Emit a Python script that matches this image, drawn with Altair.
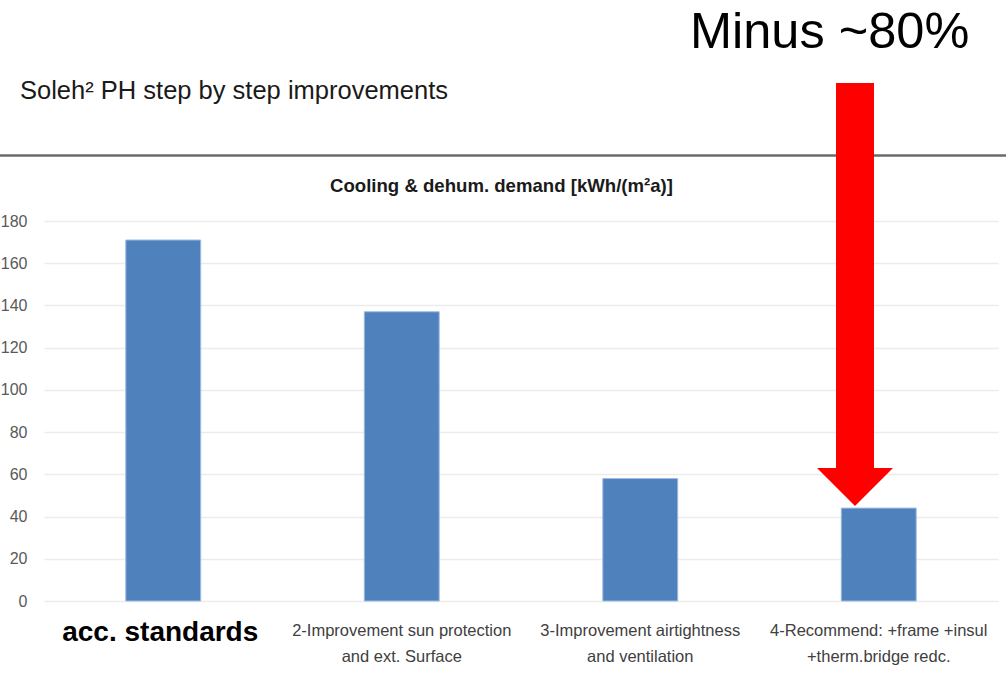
import altair as alt
import pandas as pd

# ---- data ----
categories = ["1", "2", "3", "4"]
values = [171, 137, 58, 44]
label_line1 = ["", "2-Improvement sun protection", "3-Improvement airtightness", "4-Recommend: +frame +insul"]
label_line2 = ["", "and ext. Surface", "and ventilation", "+therm.bridge redc."]
first_label = "acc. standards"
y_ticks = [0, 20, 40, 60, 80, 100, 120, 140, 160, 180]

page_title = "Soleh\u00b2 PH step by step improvements"
chart_title = "Cooling & dehum. demand [kWh/(m\u00b2a)]"
callout = "Minus ~80%"

SANS = "Liberation Sans, Arial, sans-serif"

W, H = 954, 380

df = pd.DataFrame({
    "cat": categories,
    "value": values,
    "l1": label_line1,
    "l2": label_line2,
})
df["label"] = df["l1"] + "\n" + df["l2"]

xscale = alt.Scale(domain=categories, paddingInner=0.686, paddingOuter=0.343)

base = alt.Chart(df)

bars = base.mark_bar(color="#4f81bd", stroke="#9dbbe0", strokeWidth=1).encode(
    x=alt.X("cat:N", sort=None, scale=xscale, axis=None),
    y=alt.Y(
        "value:Q",
        scale=alt.Scale(domain=[0, 180], nice=False),
        axis=alt.Axis(
            values=y_ticks,
            title=None,
            grid=True,
            gridColor="#ececec",
            gridWidth=1.5,
            domain=False,
            ticks=False,
            labelFont=SANS,
            labelFontSize=16,
            labelColor="#595959",
            labelPadding=17,
        ),
    ),
)

xlabels = base.transform_filter("datum.cat != '1'").mark_text(
    font=SANS, fontSize=16.5, color="#404040", lineBreak="\n", lineHeight=26,
    baseline="middle", align="center",
).encode(
    x=alt.X("cat:N", sort=None, scale=xscale),
    y=alt.value(H + 30),
    text="label:N",
)

first = alt.Chart(pd.DataFrame({"cat": [categories[0]], "t": [first_label]})).mark_text(
    font=SANS, fontSize=28, fontWeight="bold", color="#000000",
    baseline="middle", align="center", dx=-3,
).encode(
    x=alt.X("cat:N", sort=None, scale=xscale),
    y=alt.value(H + 32),
    text="t:N",
)

title_df = pd.DataFrame({"t": [page_title]})
ptitle = alt.Chart(title_df).mark_text(
    font=SANS, fontSize=25.5, color="#1a1a1a", align="left", baseline="alphabetic",
).encode(x=alt.value(-24), y=alt.value(-122), text="t:N")

sep = alt.Chart(title_df).mark_rule(color="#6b6b6b", strokeWidth=2.5).encode(
    x=alt.value(-44), x2=alt.value(962), y=alt.value(-65.5)
)

ctitle = alt.Chart(pd.DataFrame({"t": [chart_title]})).mark_text(
    font=SANS, fontSize=18.6, fontWeight="bold", color="#1a1a1a", align="center", baseline="middle",
).encode(x=alt.value(457.5), y=alt.value(-35), text="t:N")

callout_txt = alt.Chart(pd.DataFrame({"t": [callout]})).mark_text(
    font=SANS, fontSize=50.5, color="#000000", align="left", baseline="alphabetic",
).encode(x=alt.value(646), y=alt.value(-173), text="t:N")

shaft = alt.Chart(title_df).mark_rule(color="#ff0000", strokeWidth=38, strokeCap="butt").encode(
    x=alt.value(811), y=alt.value(-138), y2=alt.value(248)
)

head = alt.Chart(title_df).mark_point(
    shape="M-1,-0.5L1,-0.5L0,0.5Z", size=5776, filled=True, color="#ff0000", opacity=1, strokeWidth=0,
).encode(x=alt.value(811), y=alt.value(266))

chart = alt.layer(
    bars, xlabels, first, ptitle, sep, ctitle, shaft, head, callout_txt
).properties(
    width=W, height=H,
    padding={"left": 44, "top": 221, "right": 8, "bottom": 74},
    autosize=alt.AutoSizeParams(type="none"),
    background="white",
).configure_view(stroke=None)

chart.save("out.html", embed_options={"renderer": "svg", "actions": False})
